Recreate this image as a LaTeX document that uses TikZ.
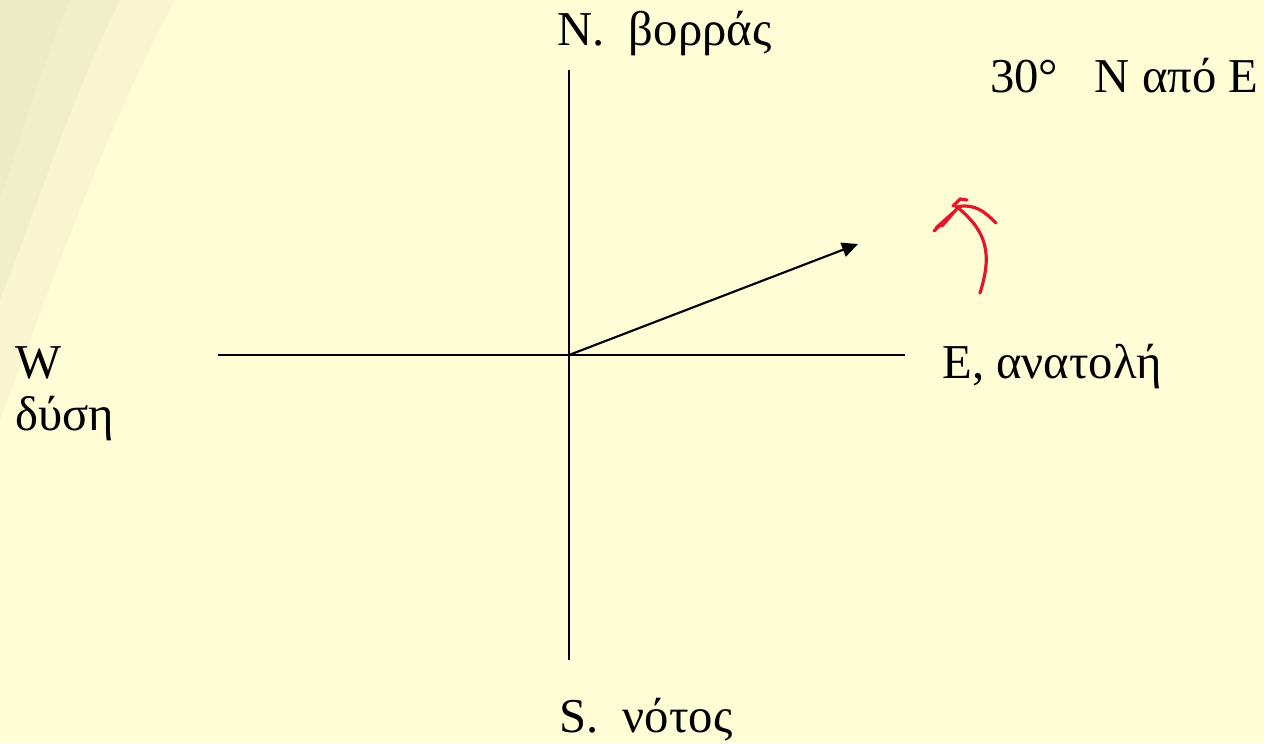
\documentclass[tikz,border=0pt]{standalone}
\usepackage{fontspec}
\setmainfont{Liberation Serif}
\usetikzlibrary{arrows.meta}
\definecolor{bg}{HTML}{FFFDD6}
\definecolor{cornercol}{HTML}{E4E1C0}
\definecolor{pen}{HTML}{E3162B}
\begin{document}
\begin{tikzpicture}[x=0.75pt,y=-0.75pt,
  lbl/.style={anchor=base west,inner sep=0pt,font=\fontsize{36.5}{42}\selectfont},
  axis/.style={line width=1.6pt},
  vec/.style={line width=1.6pt,-{Triangle[length=12pt,width=11pt]}},
  ink/.style={pen,line width=2.4pt,line cap=round,line join=round}]
\fill[bg] (0,0) rectangle (1264,743);
\useasboundingbox (0,0) rectangle (1264,743);
% soft shading in the top-left corner
\fill[cornercol,opacity=0.25] (0,0) -- (175,0) .. controls (110,120) and (60,260) .. (0,420) -- cycle;
\fill[cornercol,opacity=0.3] (0,0) -- (120,0) .. controls (70,100) and (40,200) .. (0,300) -- cycle;
\fill[cornercol,opacity=0.3] (0,0) -- (70,0) .. controls (40,70) and (20,140) .. (0,200) -- cycle;
% axes
\coordinate (O) at (569,355);
\coordinate (Ntop) at (569,70);
\coordinate (Sbot) at (569,660);
\coordinate (Wend) at (218,355);
\coordinate (Eend) at (905,355);
\coordinate (V) at (858,244);
\draw[axis] (Ntop) -- (Sbot);
\draw[axis] (Wend) -- (Eend);
\draw[vec] (O) -- (V);
% labels
\node[lbl] (n) at (557,45) {N.\ \ βορράς};
\node[lbl] (s) at (559,732) {S.\ \ νότος};
\node[lbl] (w) at (15,378) {W};
\node[lbl] (wg) at (15,430) {δύση};
\node[lbl] (e) at (942,378) {E, ανατολή};
\node[lbl] (ang) at (990,92) {30°\ \ \ N από E};
% red hand-drawn mark
\draw[ink] (980,293) .. controls (992,255) and (988,232) .. (957,207);
\draw[ink] (956,207) .. controls (975,203) and (985,212) .. (996,223);
\draw[ink] (953,206) -- (960,199) -- (967,200);
\draw[ink] (958,208) -- (934,231) -- (952,214) -- (936,228) -- (955,211) -- (942,226);
\end{tikzpicture}
\end{document}
